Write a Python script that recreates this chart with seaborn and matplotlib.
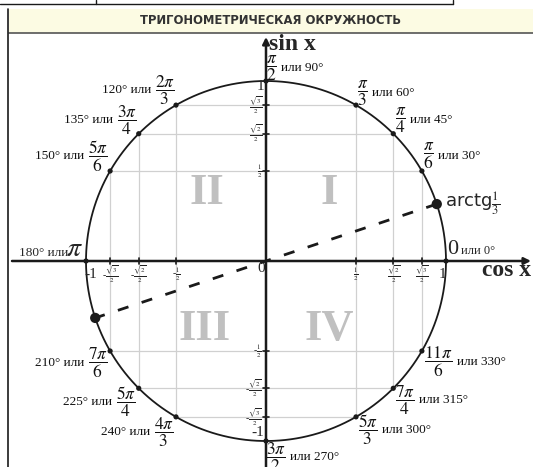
import numpy as np
import pandas as pd
import seaborn as sns
import matplotlib.pyplot as plt
from matplotlib import font_manager
from matplotlib.patches import Rectangle
from matplotlib.offsetbox import TextArea, HPacker, AnnotationBbox

# ---------------- data ----------------
title = 'ТРИГОНОМЕТРИЧЕСКАЯ ОКРУЖНОСТЬ'
point_angles = [0, 30, 45, 60, 90, 120, 135, 150, 180, 210, 225, 240, 270, 300, 315, 330]
grid_angles = [30, 45, 60]
tick_values = [0.5, np.sqrt(2) / 2, np.sqrt(3) / 2]
tick_names = [r'$\frac{1}{2}$', r'$\frac{\sqrt{2}}{2}$', r'$\frac{\sqrt{3}}{2}$']
quadrants = ['I', 'II', 'III', 'IV']
arctg_value = 1 / 3

# angle labels: degrees text, radian fraction, pixel anchor x, y, fraction first?
label_words = ['или 90°', 'или 60°', 'или 45°', 'или 30°',
               '120° или', '135° или', '150° или',
               '210° или', '225° или', '240° или',
               'или 270°', 'или 300°', 'или 315°', 'или 330°']
label_fracs = [r'$\dfrac{\pi}{2}$', r'$\dfrac{\pi}{3}$', r'$\dfrac{\pi}{4}$', r'$\dfrac{\pi}{6}$',
               r'$\dfrac{2\pi}{3}$', r'$\dfrac{3\pi}{4}$', r'$\dfrac{5\pi}{6}$',
               r'$\dfrac{7\pi}{6}$', r'$\dfrac{5\pi}{4}$', r'$\dfrac{4\pi}{3}$',
               r'$\dfrac{3\pi}{2}$', r'$\dfrac{5\pi}{3}$', r'$\dfrac{7\pi}{4}$', r'$\dfrac{11\pi}{6}$']
label_px = [(266, 68), (357, 93), (395, 120), (423, 156),
            (175, 90), (137, 120), (108, 156),
            (108, 363), (136, 402), (174, 432),
            (266, 457), (358, 430), (395, 400), (424, 362)]
label_frac_first = [True, True, True, True,
                    False, False, False,
                    False, False, False,
                    True, True, True, True]

# ---------------- layout helpers ----------------
CX, CY, R = 266, 261, 180  # circle centre and radius in pixels


def px(x, y):
    return (x - CX) / R, (CY - y) / R


sns.set_theme(style='white')
plt.rcParams['font.family'] = ['Liberation Serif', 'DejaVu Serif']
plt.rcParams['mathtext.fontset'] = 'stix'

fig = plt.figure(figsize=(5.33, 4.67), dpi=100)
ax = fig.add_axes([0, 0, 1, 1])
ax.set_xlim(-CX / R, (533 - CX) / R)
ax.set_ylim(-(467 - CY) / R, CY / R)
ax.set_axis_off()

# header band
x0, y0 = px(9, 33)
x1, y1 = px(533, 9)
ax.add_patch(Rectangle((x0, y0), x1 - x0, y1 - y0, facecolor='#fcfbe3', edgecolor='none', zorder=1))
ax.plot([x0, x1], [y0, y0], color='#555555', lw=1.2, zorder=2)

# try to find a condensed bold sans for the title
cond = [f for f in font_manager.fontManager.ttflist
        if ('Narrow' in f.name or 'Condensed' in f.name or f.stretch in ('condensed', 'semi-condensed'))
        and f.weight in ('bold', 700) and 'Serif' not in f.name and 'Mono' not in f.name]
if cond:
    title_font = font_manager.FontProperties(fname=cond[0].fname, size=12)
else:
    title_font = font_manager.FontProperties(family='DejaVu Sans', weight='bold', size=12)
title_txt = ax.text((x0 + x1) / 2, (y0 + y1) / 2, title, ha='center', va='center',
                    fontproperties=title_font, color='#333333', zorder=3)
fig.canvas.draw()
tw = title_txt.get_window_extent().width
if tw > 262:
    title_txt.set_fontsize(12 * 262 / tw)

# frame lines at top / left
ax.plot(*zip(px(0, 4), px(453, 4)), color='k', lw=1)
ax.plot(*zip(px(96, 0), px(96, 4)), color='k', lw=1)
ax.plot(*zip(px(453, 0), px(453, 4)), color='k', lw=1)
ax.plot(*zip(px(8, 9), px(8, 467)), color='k', lw=1.2)

# grid chords
for a in grid_angles:
    c, s = np.cos(np.radians(a)), np.sin(np.radians(a))
    for sgn in (1, -1):
        ax.plot([-c, c], [sgn * s, sgn * s], color='#d0d0d0', lw=0.9, zorder=1)
        ax.plot([sgn * c, sgn * c], [-s, s], color='#d0d0d0', lw=0.9, zorder=1)

# axes with arrows
ax.annotate('', xy=px(531, CY), xytext=px(12, CY),
            arrowprops=dict(arrowstyle='-|>', lw=1.8, color='k', mutation_scale=10, shrinkA=0, shrinkB=0))
ax.annotate('', xy=px(CX, 37), xytext=px(CX, 467),
            arrowprops=dict(arrowstyle='-|>', lw=1.8, color='k', mutation_scale=10, shrinkA=0, shrinkB=0))

# circle
theta = np.linspace(0, 2 * np.pi, 400)
circle = pd.DataFrame({'x': np.cos(theta), 'y': np.sin(theta)})
sns.lineplot(data=circle, x='x', y='y', sort=False, estimator=None, color='k', lw=1.3, ax=ax, zorder=3)

# ticks on axes and their labels
tk = 3 / R
for v, name in zip(tick_values, tick_names):
    for sgn in (1, -1):
        ax.plot([sgn * v, sgn * v], [-tk, tk], color='k', lw=1.2, zorder=3)
        ax.plot([-tk, tk], [sgn * v, sgn * v], color='k', lw=1.2, zorder=3)
        pre = '-' if sgn < 0 else ''
        ax.text(sgn * v, -13 / R, pre + name, ha='center', va='center', fontsize=7, color='#222222')
        ax.text(-4 / R, sgn * v, pre + name, ha='right', va='center', fontsize=7, color='#222222')

ax.text(*px(97, 275), '-1', ha='right', va='center', fontsize=11)
ax.text(*px(446, 275), '1', ha='right', va='center', fontsize=11)
ax.text(*px(264, 87), '1', ha='right', va='center', fontsize=11)
ax.text(*px(264, 433), '-1', ha='right', va='center', fontsize=11)
ax.text(*px(265, 268), '0', ha='right', va='center', fontsize=11)

# axis names
ax.text(*px(269, 45), 'sin x', ha='left', va='center', fontsize=17, fontweight='bold')
ax.text(*px(531, 271), 'cos x', ha='right', va='center', fontsize=17, fontweight='bold')

# quadrant numerals
quad_pos = [(0.35, 0.38), (-0.33, 0.38), (-0.34, -0.38), (0.35, -0.38)]
for q, (qx, qy) in zip(quadrants, quad_pos):
    ax.text(qx, qy, q, ha='center', va='center', fontsize=32, fontweight='bold', color='#c0c0c0')

# points on the circle
pts = pd.DataFrame({'x': np.cos(np.radians(point_angles)), 'y': np.sin(np.radians(point_angles))})
sns.scatterplot(data=pts, x='x', y='y', color='k', s=14, edgecolor='none', ax=ax, zorder=4)

# angle labels (words + bigger fraction)
for words, frac, (lx, ly), first in zip(label_words, label_fracs, label_px, label_frac_first):
    w = TextArea(words, textprops=dict(fontsize=9.5, color='#111111'))
    f = TextArea(frac, textprops=dict(fontsize=12.5, color='#111111'))
    kids = [f, w] if first else [w, f]
    box = HPacker(children=kids, align='center', pad=0, sep=3)
    ab = AnnotationBbox(box, px(lx, ly), frameon=False, pad=0,
                        box_alignment=(0, 0.5) if first else (1, 0.5), zorder=5)
    ax.add_artist(ab)

ax.text(*px(447, 250), '0', ha='left', va='center', fontsize=16)
ax.text(*px(461, 251), 'или 0°', ha='left', va='center', fontsize=9)
ax.text(*px(68, 253), '180° или', ha='right', va='center', fontsize=9.5)
ax.text(*px(66, 250), r'$\pi$', ha='left', va='center', fontsize=20)

# arctg(1/3) line and points
phi = np.arctan(arctg_value)
arc = pd.DataFrame({'x': [np.cos(phi), np.cos(phi + np.pi)], 'y': [np.sin(phi), np.sin(phi + np.pi)]})
sns.lineplot(data=arc, x='x', y='y', sort=False, estimator=None, color='k', lw=2, ax=ax,
             linestyle=(0, (4, 5)), zorder=4)
sns.scatterplot(data=arc, x='x', y='y', color='k', s=55, edgecolor='none', ax=ax, zorder=5)
ax.text(np.cos(phi) + 8 / R, np.sin(phi), r'arctg$\frac{1}{3}$', ha='left', va='center',
        fontsize=13, family='DejaVu Sans')

ax.set_xlim(-CX / R, (533 - CX) / R)
ax.set_ylim(-(467 - CY) / R, CY / R)
ax.set_xlabel('')
ax.set_ylabel('')
fig.savefig('out.png', dpi=100)
